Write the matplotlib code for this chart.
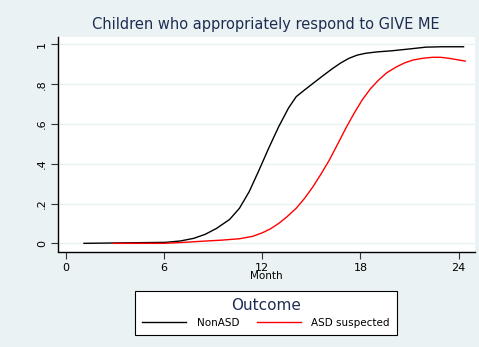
import matplotlib
matplotlib.use("Agg")
import matplotlib.pyplot as plt

# Data
month_nonasd = [1.1, 6.1, 7.0, 7.8, 8.5, 9.2, 10.0, 10.6, 11.2, 11.8, 12.4, 13.0, 13.6, 14.07, 14.6, 15.1, 15.7, 16.3, 16.8, 17.3, 17.8, 18.3, 19.0, 19.95, 21.0, 22.0, 23.0, 24.3]
val_nonasd = [0.0, 0.005, 0.012, 0.025, 0.045, 0.075, 0.12, 0.176, 0.26, 0.368, 0.48, 0.586, 0.68, 0.737, 0.772, 0.804, 0.842, 0.879, 0.907, 0.93, 0.946, 0.955, 0.962, 0.968, 0.977, 0.986, 0.988, 0.988]

month_asd = [2.9, 6.0, 7.0, 8.2, 9.5, 10.6, 11.4, 12.0, 12.5, 13.0, 13.5, 14.07, 14.6, 15.1, 15.6, 16.1, 16.6, 17.1, 17.6, 18.1, 18.6, 19.1, 19.6, 20.2, 20.7, 21.2, 21.8, 22.4, 22.9, 23.4, 24.4]
val_asd = [0.0, 0.0, 0.004, 0.01, 0.016, 0.023, 0.035, 0.053, 0.073, 0.1, 0.133, 0.176, 0.228, 0.285, 0.35, 0.419, 0.498, 0.578, 0.652, 0.72, 0.776, 0.82, 0.857, 0.887, 0.907, 0.921, 0.93, 0.935, 0.935, 0.93, 0.916]

series_labels = ["NonASD", "ASD suspected"]
x_ticks = [0, 6, 12, 18, 24]
y_ticks = [0, 0.2, 0.4, 0.6, 0.8, 1.0]
y_ticklabels = ["0", ".2", ".4", ".6", ".8", "1"]

BG = "#eaf2f3"
NAVY = "#1e2d52"

fig = plt.figure(figsize=(4.79, 3.47), dpi=100, facecolor=BG)
ax = fig.add_axes([58.3 / 479, 1 - 251.5 / 347, (475 - 58.3) / 479, (251.5 - 37) / 347])
ax.set_facecolor("white")

ax.set_xlim(-0.47, 25.0)
ax.set_ylim(-0.041, 1.037)

for v in y_ticks:
    ax.axhline(v, color=BG, lw=1.0, zorder=0)

l1, = ax.plot(month_nonasd, val_nonasd, color="black", lw=1.0, label=series_labels[0])
l2, = ax.plot(month_asd, val_asd, color="red", lw=1.0, label=series_labels[1])

for s in ["top", "right"]:
    ax.spines[s].set_visible(False)
for s in ["left", "bottom"]:
    ax.spines[s].set_color("black")
    ax.spines[s].set_linewidth(1.0)

ax.set_xticks(x_ticks)
ax.set_xticklabels([str(t) for t in x_ticks], fontsize=8)
ax.set_yticks(y_ticks)
ax.set_yticklabels(y_ticklabels, fontsize=8, rotation=90, va="center")
ax.tick_params(axis="both", direction="out", length=5, width=0.8, color="#333333", pad=3)
ax.set_xlabel("Month", fontsize=7.5, labelpad=-1)

fig.text(266 / 479, 1 - 24 / 347, "Children who appropriately respond to GIVE ME",
         ha="center", va="center", fontsize=10.5, color=NAVY)

leg = fig.legend(handles=[l1, l2], loc="center", bbox_to_anchor=(266 / 479, 1 - 313 / 347),
                 ncol=2, fontsize=7.5, title="Outcome", frameon=True, fancybox=False,
                 framealpha=1.0, facecolor="white",
                 handlelength=4.2, columnspacing=1.7, borderpad=0.75, labelspacing=0.2,
                 handletextpad=1.0, borderaxespad=0)
leg.get_title().set_fontsize(11)
leg.get_title().set_color(NAVY)
leg._legend_box.sep = 3
leg.get_frame().set_edgecolor("black")
leg.get_frame().set_linewidth(0.8)

fig.savefig("out.png", dpi=100, facecolor=BG)
